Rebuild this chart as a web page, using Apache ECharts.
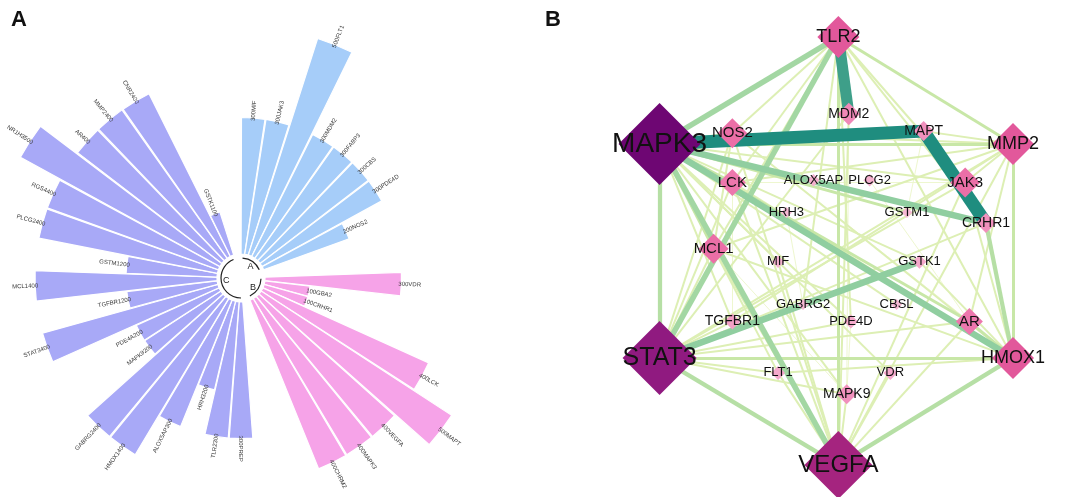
<!DOCTYPE html>
<html><head><meta charset="utf-8">
<script src="https://cdn.jsdelivr.net/npm/echarts@6/dist/echarts.min.js"></script>
<style>html,body{margin:0;padding:0;background:#fff}#c{width:1065px;height:497px}</style>
</head><body><div id="c"></div>
<script>
// ---------- Panel A data (circular bar plot) ----------
const groupA = ['MIF','JAK3','FLT1','MDM2','FABP3','CBS','PDE4D','NOS2'];
const valuesA = [300,300,500,300,300,300,300,200];
const groupB = ['VDR','GBA2','CRHR1','LCK','MAPT','VEGFA','MAPK3','CHRM2'];
const valuesB = [300,100,100,400,500,400,400,400];
const groupC = ['PREP','TLR2','HRH3','ALOX5AP','HMOX1','GABRG2','MAPK9','PDE4A','STAT3','TGFBR1','MCL1','GSTM1','PLCG2','RGS4','NR1H3','AR','MMP2','CNR2','GSTK1'];
const valuesC = [300,300,200,300,400,400,200,200,400,200,400,200,400,400,500,400,400,400,100];
const groupNames = ['A','B','C'];
const emptySlots = 2;

// ---------- Panel B data (network) ----------
const nodeNames  = ['MAPK3','STAT3','VEGFA','TLR2','MMP2','HMOX1','NOS2','JAK3','LCK','MCL1','AR','MDM2','MAPT','CRHR1','MAPK9','TGFBR1','PDE4D','VDR','FLT1','GSTK1','MIF','ALOX5AP','PLCG2','HRH3','GSTM1','GABRG2','CBSL'];
const nodeDegree = [26,24,23,16,16,16,11,11,10,11,10,8,7,7,7,5,4,4,4,4,3,3,3,2,2,2,2];
// layout units of the concentric layout (outer ring radius = 100)
const nodeLayoutX = [-85,-85,1,1,85,85,-50,62,-50,-59,64,6,42,72,5,-50,7,26,-28,40,-28,-11,16,-24,34,-16,29];
const nodeLayoutY = [-50,50,100,-100,-50,50,-55,-32,-32,-1,33,-64,-56,-13,67,33,33,57,57,5,5,-33,-33,-18,-18,25,25];
const edges = [
 ['MAPK3','MAPT',10],['MAPT','CRHR1',10],['TLR2','MDM2',9],
 ['MAPK3','CRHR1',6],['MAPK3','HMOX1',6],['STAT3','GSTK1',6],['MAPK3','TLR2',5],['TLR2','STAT3',5],
 ['MAPK3','VEGFA',5],['MAPK3','STAT3',4],['STAT3','VEGFA',4],['VEGFA','HMOX1',4],['HMOX1','CRHR1',4],
 ['TLR2','VEGFA',3],['MMP2','HMOX1',3],['TLR2','MMP2',3],['MAPK3','MMP2',3],['STAT3','HMOX1',3],
 ['MAPK3','NOS2',3],['MAPK3','LCK',3],['MAPK3','MCL1',3],['MAPK3','AR',3],['MAPK3','GSTM1',3],
 ['MAPK3','JAK3',2],['MAPK3','GSTK1',2],['MAPK3','MAPK9',2],['MAPK3','FLT1',2],['MAPK3','TGFBR1',2],['MAPK3','PDE4D',2],['MAPK3','MIF',2],['MAPK3','VDR',2],['MAPK3','CBSL',2],
 ['STAT3','MMP2',2],['STAT3','MCL1',2],['STAT3','LCK',2],['STAT3','JAK3',2],['STAT3','NOS2',2],['STAT3','MAPK9',2],['STAT3','FLT1',2],['STAT3','AR',2],['STAT3','CRHR1',2],['STAT3','MDM2',2],['STAT3','TGFBR1',2],['STAT3','PDE4D',2],
 ['VEGFA','MMP2',2],['VEGFA','NOS2',2],['VEGFA','MCL1',2],['VEGFA','FLT1',2],['VEGFA','MAPK9',2],['VEGFA','LCK',2],['VEGFA','AR',2],['VEGFA','JAK3',2],['VEGFA','MDM2',2],['VEGFA','VDR',2],['VEGFA','MIF',2],
 ['TLR2','NOS2',2],['TLR2','JAK3',2],['TLR2','HMOX1',2],['TLR2','CRHR1',2],['TLR2','GABRG2',2],['TLR2','LCK',2],['TLR2','MCL1',2],['TLR2','PDE4D',2],
 ['MMP2','NOS2',2],['MMP2','LCK',2],['MMP2','MCL1',2],['MMP2','JAK3',2],['MMP2','MAPT',2],['MMP2','AR',2],['MMP2','TGFBR1',2],
 ['HMOX1','AR',3],['HMOX1','MCL1',2],['HMOX1','LCK',2],['HMOX1','JAK3',2],['HMOX1','NOS2',2],['HMOX1','GSTK1',2],['HMOX1','FLT1',2],
 ['NOS2','MCL1',2],['NOS2','AR',1],['JAK3','LCK',1],['MCL1','MAPK9',1],['MDM2','MAPK9',1],['PDE4D','MAPK9',1],['LCK','TGFBR1',1],['GABRG2','HRH3',1],['MAPT','GSTM1',1],['PLCG2','AR',1]
];

// ---------- helpers ----------
function lerp(stops, x){
  if (x <= stops[0][0]) return stops[0][1];
  for (let i=1;i<stops.length;i++){
    if (x <= stops[i][0]){ const a=stops[i-1], b=stops[i]; const t=(x-a[0])/(b[0]-a[0]); return a[1]+(b[1]-a[1])*t; }
  }
  return stops[stops.length-1][1];
}
function hex2rgb(h){ return [parseInt(h.slice(1,3),16),parseInt(h.slice(3,5),16),parseInt(h.slice(5,7),16)]; }
function lerpColor(stops, x){
  const r = [0,1,2].map(k => Math.round(lerp(stops.map(s=>[s[0], hex2rgb(s[1])[k]]), x)));
  return 'rgb(' + r.join(',') + ')';
}

// ---------- build panel A ----------
const groupColors = ['#A6CDF9','#F6A3E8','#A8A9F7'];
const cats = [], barData = [], labelData = [], groupRanges = [];
[[groupA,valuesA],[groupB,valuesB],[groupC,valuesC]].forEach((g, gi) => {
  const start = cats.length;
  g[0].forEach((name, i) => {
    cats.push(name);
    barData.push({value: g[1][i], itemStyle:{color: groupColors[gi]}});
    labelData.push([g[1][i], cats.length-1]);
  });
  groupRanges.push([start, cats.length-1, gi]);
  for (let k=0;k<emptySlots;k++){ cats.push('gap'+gi+'_'+k); barData.push('-'); }
});
const nSlots = cats.length;
const labelTexts = labelData.map(d => {
  const ang = (d[1]+0.5)*360/nSlots;
  return ang <= 180.5 ? d[0] + cats[d[1]] : cats[d[1]] + d[0];
});

// ---------- build panel B ----------
const nodes = nodeNames.map((n,i) => {
  const d = nodeDegree[i];
  const size = lerp([[2,11],[4,14],[7,20],[10,27],[11,30],[16,42],[23,68],[24,74],[26,82]], d);
  return {
    name: n, value: [nodeLayoutX[i], nodeLayoutY[i]],
    symbol: 'diamond', symbolSize: size,
    itemStyle: {color: lerpColor([[2,'#F6B9D4'],[7,'#F190BD'],[11,'#EB6FA7'],[16,'#E2589B'],[23,'#A5247F'],[24,'#901A80'],[26,'#6E0673']], d)},
    label: {fontSize: Math.round(lerp([[2,13],[7,14],[11,15],[16,18],[23,24],[24,25],[26,28]], d))}
  };
});
const links = edges.slice().sort((a,b)=>a[2]-b[2]).map(e => ({
  source: e[0], target: e[1],
  lineStyle: {
    width: lerp([[1,1],[2,2],[3,3],[5,5.5],[7,7.5],[10,13]], e[2]),
    color: lerpColor([[1,'#EEF7CF'],[2,'#DDEFB4'],[3,'#C8E7A7'],[5,'#A3D7A3'],[7,'#7CC49D'],[10,'#1F8D7F']], e[2]),
    opacity: 1, curveness: 0
  }
}));

const chart = echarts.init(document.getElementById('c'), null, {renderer:'canvas'});
chart.setOption({
  animation: false,
  backgroundColor: '#fff',
  textStyle: {fontFamily: 'Liberation Sans, Arial, sans-serif'},
  title: [
    {text:'A', left: 6, top: 4, textStyle:{fontSize: 22, fontWeight:'bold', color:'#111'}},
    {text:'B', left: 540, top: 4, textStyle:{fontSize: 22, fontWeight:'bold', color:'#111'}}
  ],
  polar: {center: [241, 278], radius: [24, 260.6]},
  angleAxis: {type:'category', data: cats, startAngle: 90, clockwise: true, boundaryGap: true,
    axisLine:{show:false}, axisTick:{show:false}, axisLabel:{show:false}, splitLine:{show:false}},
  radiusAxis: {type:'value', min: 0, max: 520, axisLine:{show:false}, axisTick:{show:false}, axisLabel:{show:false}, splitLine:{show:false}},
  grid: {left: 607.6, top: 0.6, width: 470.8, height: 496.5},
  xAxis: {type:'value', min:-110, max:110, show:false},
  yAxis: {type:'value', min:-117, max:115, inverse:true, show:false},
  series: [
    {type:'bar', coordinateSystem:'polar', data: barData, barCategoryGap:'4%', itemStyle:{borderColor:'#fff', borderWidth:1.2}, z: 2},
    {type:'custom', coordinateSystem:'polar', data: labelData, z: 3,
      renderItem: function(params, api){
        const val = api.value(0), idx = api.value(1);
        const tip = api.coord([val, idx]);
        const cs = params.coordSys;
        const dx = tip[0]-cs.cx, dy = tip[1]-cs.cy, r = Math.hypot(dx,dy);
        const ux = dx/r, uy = dy/r;
        const ang = (idx+0.5)*360/nSlots;
        const right = ang <= 180.5;
        const px = tip[0] - 3*ux, py = tip[1] - 3*uy;
        const sa = Math.atan2(-dy, dx);
        return {type:'text', x: px, y: py, rotation: right ? sa : sa + Math.PI,
          style:{text: labelTexts[params.dataIndex], align: right ? 'left':'right', verticalAlign:'middle',
            fontSize: 6, fill:'#3a3a3a', fontFamily:'Liberation Sans, Arial, sans-serif'}};
      }},
    {type:'custom', coordinateSystem:'polar', data: groupRanges, z: 3,
      renderItem: function(params, api){
        const s = api.value(0), e = api.value(1), gi = api.value(2);
        const cs = params.coordSys;
        const p1 = api.coord([0, s]), p2 = api.coord([0, e]);
        const a1 = Math.atan2(p1[1]-cs.cy, p1[0]-cs.cx), a2 = Math.atan2(p2[1]-cs.cy, p2[0]-cs.cx);
        const mid = api.coord([0, (s+e)/2]);
        const am = Math.atan2(mid[1]-cs.cy, mid[0]-cs.cx);
        return {type:'group', children:[
          {type:'arc', shape:{cx: cs.cx, cy: cs.cy, r: 20, startAngle: a1, endAngle: a2, clockwise: true},
            style:{stroke:'#222', lineWidth:1.2, fill:null}},
          {type:'text', x: cs.cx + 15*Math.cos(am), y: cs.cy + 15*Math.sin(am),
            style:{text: groupNames[gi], align:'center', verticalAlign:'middle', fontSize: 9, fill:'#222', fontFamily:'Liberation Sans, Arial, sans-serif'}}
        ]};
      }},
    {type:'graph', coordinateSystem:'cartesian2d', layout:'none', data: nodes, links: links,
      label:{show:true, position:'inside', color:'#111', fontFamily:'Liberation Sans, Arial, sans-serif'},
      lineStyle:{opacity:1}, emphasis:{disabled:true}, z: 2}
  ]
});
</script></body></html>
